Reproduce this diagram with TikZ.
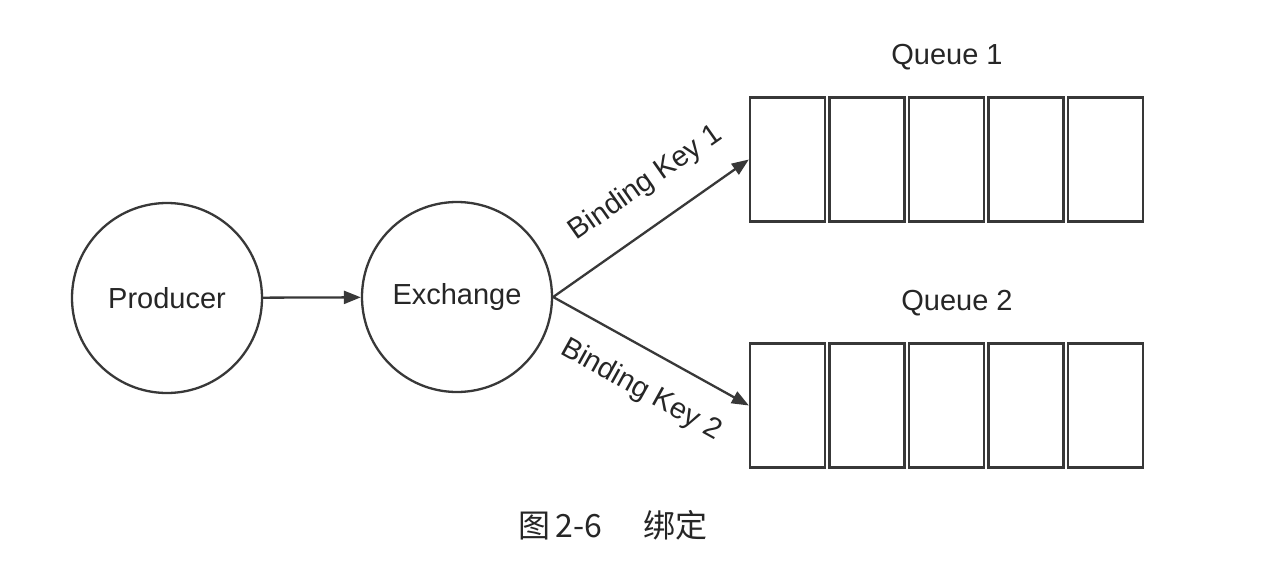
\documentclass[tikz,border=0pt]{standalone}
\usepackage{fontspec}
\setmainfont{Liberation Sans}
\newfontfamily\cjk{Noto Sans CJK SC}
\usetikzlibrary{arrows.meta}
\begin{document}
\begin{tikzpicture}[x=1pt,y=-1pt,
 line/.style={draw=black!78, line width=2.3pt},
 circ/.style={line, circle, minimum size=190pt, inner sep=0pt, font=\fontsize{29}{34}\selectfont, text=black!85},
 cell/.style={line, rectangle, minimum width=75pt, minimum height=124pt, inner sep=0pt},
 lab/.style={font=\fontsize{29}{34}\selectfont, text=black!85},
 arr/.style={line, -{Triangle[length=17pt,width=13pt]}}]
\useasboundingbox[fill=white] (0,0) rectangle (1277,573);
\node[circ] (prod) at (167,298) {Producer};
\node[circ] (exch) at (457,297) {Exchange};
\foreach \i/\x in {a/787.5,b/867,c/946.5,d/1026,e/1105.5}{
  \node[cell] (q1\i) at (\x,159.5) {};
  \node[cell] (q2\i) at (\x,405.5) {};
}
\node[lab] (ql1) at (947,57) {Queue 1};
\node[lab] (ql2) at (957,303) {Queue 2};
\draw[arr] (prod) -- (exch);
\draw[arr] (exch.east) -- node[lab, pos=0.59, sloped, above=25pt, inner sep=0pt] (bk1) {Binding Key 1} (q1a.west);
\draw[arr] (exch.east) -- node[lab, pos=0.545, sloped, below=24pt, inner sep=0pt] (bk2) {Binding Key 2} (q2a.west);
\node[font=\fontsize{32}{38}\selectfont, text=black!85] (cap) at (613,525) {\cjk 图\,2-6\hspace{42pt}绑定};
\end{tikzpicture}
\end{document}
